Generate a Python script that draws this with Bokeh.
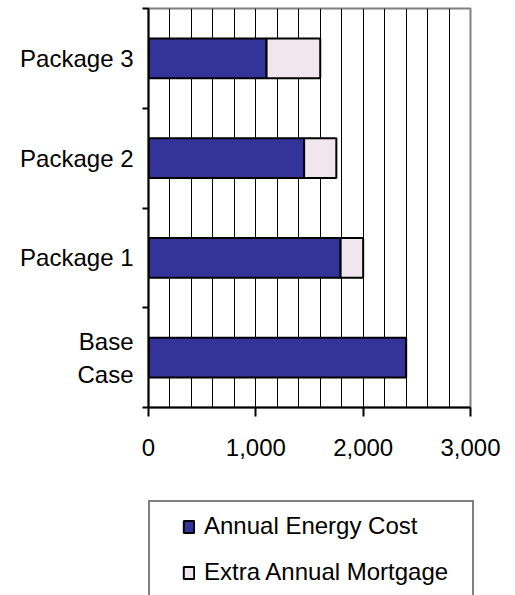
from bokeh.plotting import figure
from bokeh.layouts import column
from bokeh.models import (ColumnDataSource, Range1d, FixedTicker, SingleIntervalTicker,
                          NumeralTickFormatter, Legend, LegendItem)
from bokeh.embed import file_html
from bokeh.resources import INLINE

# ---- data ----
categories = ["Base\nCase", "Package 1", "Package 2", "Package 3"]
energy_cost = [2400, 1790, 1450, 1100]
extra_mortgage = [0, 210, 300, 500]
series_names = ["Annual Energy Cost", "Extra Annual Mortgage"]
x_ticks = [0, 1000, 2000, 3000]
grid_step = 200

FONT = "Liberation Sans"
BLUE = "#333399"
PINK = "#F2E6EE"
COLORS = [BLUE, PINK]

positions = [i + 0.5 for i in range(len(categories))]
source = ColumnDataSource(dict(y=positions, energy=energy_cost, mortgage=extra_mortgage))

p = figure(width=515, height=470, output_backend="svg", toolbar_location=None,
           x_range=Range1d(x_ticks[0], x_ticks[-1]), y_range=Range1d(0, len(categories)),
           min_border_left=148, min_border_right=45, min_border_top=8, min_border_bottom=63,
           background_fill_color="white", border_fill_color="white")
p.frame_align = False

renderers = p.hbar_stack(["energy", "mortgage"], y="y", height=0.4, source=source,
                         fill_color=COLORS, line_color="black", line_width=2)

# grid
p.ygrid.visible = False
p.xgrid.ticker = SingleIntervalTicker(interval=grid_step)
p.xgrid.grid_line_color = "black"
p.xgrid.grid_line_width = 1

# outline (top/right gray)
p.outline_line_color = "#808080"
p.outline_line_width = 2

# x axis
xa = p.xaxis[0]
xa.ticker = FixedTicker(ticks=x_ticks)
xa.formatter = NumeralTickFormatter(format="0,0")
xa.axis_line_color = "black"
xa.axis_line_width = 2
xa.major_tick_line_color = "black"
xa.major_tick_line_width = 2
xa.major_tick_out = 9
xa.major_tick_in = 0
xa.minor_tick_line_color = None
xa.major_label_text_font = FONT
xa.major_label_text_font_size = "24px"
xa.major_label_text_color = "black"
xa.major_label_standoff = 22

# y axis
ya = p.yaxis[0]
ya.ticker = FixedTicker(ticks=positions, minor_ticks=list(range(len(categories) + 1)))
ya.major_label_overrides = {pos: cat for pos, cat in zip(positions, categories)}
ya.axis_line_color = "black"
ya.axis_line_width = 2
ya.major_tick_line_color = None
ya.major_tick_out = 0
ya.major_tick_in = 0
ya.minor_tick_line_color = "black"
ya.minor_tick_line_width = 2
ya.minor_tick_out = 6
ya.minor_tick_in = 0
ya.major_label_text_font = FONT
ya.major_label_text_font_size = "24px"
ya.major_label_text_color = "black"
ya.major_label_text_line_height = 1.22
ya.major_label_standoff = 9

# ---- legend panel (same series; y range puts the bars below the view, under the legend) ----
p2 = figure(width=515, height=125, output_backend="svg", toolbar_location=None,
            x_range=Range1d(-1300, 2900), y_range=Range1d(10, 11),
            x_axis_location=None, y_axis_location=None,
            min_border_left=0, min_border_right=0, min_border_top=0, min_border_bottom=0,
            background_fill_color="white", border_fill_color="white")
p2.frame_align = False
p2.outline_line_color = None
p2.grid.visible = False
legend_renderers = p2.hbar_stack(["energy", "mortgage"], y="y", height=0.4, source=source,
                                 fill_color=COLORS, line_color="black", line_width=2)

legend = Legend(
    items=[LegendItem(label=name, renderers=[r]) for name, r in zip(series_names, legend_renderers)],
    location=(148, -3), orientation="vertical", margin=0, padding=8,
    border_line_color="black", border_line_width=2, background_fill_color="white",
    background_fill_alpha=1.0,
    label_text_font=FONT, label_text_font_size="24px", label_text_color="black",
    glyph_width=13, glyph_height=15, label_standoff=9, label_height=32, label_width=260,
    spacing=14, title=" ", title_location="left", title_standoff=13,
    title_text_font_size="10px",
)
p2.add_layout(legend, "center")

layout = column(p, p2, spacing=0)
open("out.html", "w").write(file_html(layout, INLINE))
